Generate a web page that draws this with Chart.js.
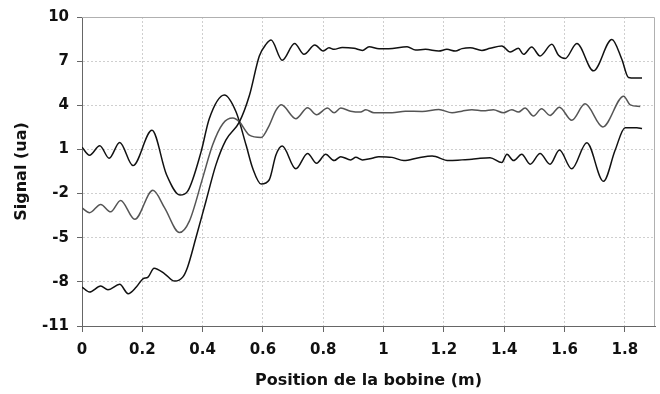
<!DOCTYPE html>
<html>
<head>
<meta charset="utf-8">
<script src="https://cdn.jsdelivr.net/npm/chart.js@4/dist/chart.umd.min.js"></script>
<style>
  html, body { margin: 0; padding: 0; background: #fff; }
  #wrap { width: 660px; height: 394px; }
</style>
</head>
<body>
<div id="wrap"><canvas id="myChart" width="660" height="394"></canvas></div>
<script>
// tick positions
const xTicks = [0, 0.2, 0.4, 0.6, 0.8, 1, 1.2, 1.4, 1.6, 1.8];
const yTicks = [-11, -8, -5, -2, 1, 4, 7, 10];

// curve starting near 1 (black)
const posA = [0, 0.025, 0.059, 0.09, 0.125, 0.169, 0.232, 0.28, 0.325, 0.35, 0.395, 0.422, 0.472, 0.511, 0.544, 0.566, 0.594, 0.621, 0.643, 0.664, 0.709, 0.748, 0.778, 0.808, 0.836, 0.858, 0.891, 0.908, 0.93, 0.962, 0.984, 1.028, 1.067, 1.117, 1.161, 1.216, 1.26, 1.293, 1.32, 1.353, 1.392, 1.409, 1.431, 1.458, 1.486, 1.519, 1.552, 1.583, 1.624, 1.674, 1.729, 1.768, 1.801, 1.84, 1.857];
const sigA = [1.15, 0.6, 1.25, 0.4, 1.47, -0.1, 2.3, -0.7, -2.1, -1.85, 0.85, 3.09, 4.7, 3.54, 1.3, -0.28, -1.35, -1.06, 0.62, 1.23, -0.32, 0.73, 0.06, 0.67, 0.24, 0.51, 0.29, 0.46, 0.29, 0.4, 0.51, 0.46, 0.24, 0.44, 0.55, 0.24, 0.29, 0.33, 0.4, 0.44, 0.11, 0.67, 0.24, 0.67, 0.0, 0.73, 0.0, 0.96, -0.32, 1.45, -1.17, 0.96, 2.48, 2.48, 2.42];

// curve starting near -3 (grey)
const posB = [0, 0.025, 0.062, 0.095, 0.128, 0.175, 0.235, 0.274, 0.323, 0.356, 0.4, 0.433, 0.467, 0.5, 0.522, 0.555, 0.594, 0.621, 0.643, 0.661, 0.709, 0.748, 0.778, 0.814, 0.836, 0.858, 0.891, 0.924, 0.941, 0.968, 1.028, 1.072, 1.128, 1.183, 1.227, 1.26, 1.293, 1.331, 1.364, 1.397, 1.425, 1.447, 1.469, 1.497, 1.524, 1.552, 1.583, 1.624, 1.668, 1.727, 1.796, 1.818, 1.851];
const sigB = [-2.97, -3.3, -2.74, -3.24, -2.47, -3.75, -1.78, -2.97, -4.65, -3.87, -0.95, 1.3, 2.75, 3.13, 2.87, 1.97, 1.81, 2.64, 3.65, 4.03, 3.09, 3.83, 3.36, 3.81, 3.49, 3.81, 3.6, 3.54, 3.7, 3.49, 3.49, 3.6, 3.58, 3.72, 3.49, 3.6, 3.7, 3.63, 3.7, 3.49, 3.7, 3.54, 3.81, 3.27, 3.76, 3.31, 3.87, 2.98, 4.1, 2.53, 4.62, 4.03, 3.92];

// curve starting near -8.5 (black)
const posC = [0, 0.025, 0.062, 0.086, 0.125, 0.153, 0.18, 0.202, 0.219, 0.239, 0.274, 0.307, 0.334, 0.35, 0.378, 0.411, 0.444, 0.477, 0.522, 0.555, 0.588, 0.61, 0.627, 0.664, 0.705, 0.736, 0.772, 0.8, 0.819, 0.836, 0.863, 0.902, 0.93, 0.952, 0.985, 1.017, 1.078, 1.106, 1.139, 1.183, 1.21, 1.238, 1.26, 1.287, 1.326, 1.353, 1.392, 1.42, 1.447, 1.464, 1.491, 1.519, 1.558, 1.58, 1.602, 1.641, 1.696, 1.757, 1.79, 1.812, 1.834, 1.857];
const sigC = [-8.35, -8.69, -8.29, -8.53, -8.17, -8.8, -8.35, -7.79, -7.68, -7.07, -7.45, -7.95, -7.68, -7.0, -4.99, -2.52, -0.05, 1.63, 2.87, 4.66, 7.35, 8.14, 8.43, 7.06, 8.2, 7.46, 8.09, 7.69, 7.91, 7.8, 7.93, 7.87, 7.73, 7.98, 7.85, 7.85, 7.98, 7.76, 7.8, 7.69, 7.8, 7.69, 7.85, 7.91, 7.73, 7.87, 8.03, 7.62, 7.87, 7.46, 7.96, 7.35, 8.14, 7.4, 7.18, 8.2, 6.34, 8.47, 7.13, 5.89, 5.85, 5.85];

function toPoints(xs, ys) {
    return xs.map((x, i) => ({ x: x, y: ys[i] }));
}

const FONT = "'DejaVu Sans', sans-serif";

// light frame on top / right of the plot area
const frame = {
    id: 'frame',
    beforeDatasetsDraw(chart) {
        const a = chart.chartArea;
        const ctx = chart.ctx;
        ctx.save();
        ctx.strokeStyle = '#b0b0b0';
        ctx.lineWidth = 1;
        ctx.beginPath();
        ctx.moveTo(a.left, a.top + 0.5);
        ctx.lineTo(a.right - 0.5, a.top + 0.5);
        ctx.lineTo(a.right - 0.5, a.bottom);
        ctx.stroke();
        ctx.restore();
    }
};

function lineSet(data, color) {
    return {
        data: data,
        borderColor: color,
        borderWidth: 1.5,
        pointRadius: 0,
        fill: false,
        cubicInterpolationMode: 'monotone'
    };
}

const ctx = document.getElementById('myChart').getContext('2d');
const myChart = new Chart(ctx, {
    type: 'line',
    data: {
        datasets: [
            lineSet(toPoints(posC, sigC), '#111111'),
            lineSet(toPoints(posB, sigB), '#555555'),
            lineSet(toPoints(posA, sigA), '#111111')
        ]
    },
    options: {
        responsive: false,
        animation: false,
        layout: { padding: { top: 14, right: 5, left: 0, bottom: 0 } },
        plugins: { legend: { display: false }, tooltip: { enabled: false } },
        scales: {
            x: {
                type: 'linear',
                min: 0,
                max: 1.9,
                afterBuildTicks: s => { s.ticks = xTicks.map(v => ({ value: v })); },
                afterFit: s => { s.height = 68; },
                ticks: {
                    callback: v => String(v),
                    color: '#111',
                    font: { family: FONT, size: 15, weight: 'bold' },
                    padding: 9,
                    maxRotation: 0
                },
                grid: {
                    color: '#cfcfcf',
                    tickBorderDash: [],
                    tickColor: '#666',
                    tickLength: 6
                },
                border: { color: '#666', width: 1, dash: [2, 2] },
                title: {
                    display: true,
                    text: 'Position de la bobine (m)',
                    color: '#111',
                    font: { family: FONT, size: 16, weight: 'bold' },
                    padding: { top: 8 }
                }
            },
            y: {
                type: 'linear',
                min: -11,
                max: 10,
                afterBuildTicks: s => { s.ticks = yTicks.map(v => ({ value: v })); },
                afterFit: s => { s.width = 82; },
                ticks: {
                    callback: v => String(v),
                    color: '#111',
                    font: { family: FONT, size: 15, weight: 'bold' },
                    padding: 8
                },
                grid: {
                    color: '#cfcfcf',
                    tickBorderDash: [],
                    tickColor: '#666',
                    tickLength: 5
                },
                border: { color: '#666', width: 1, dash: [2, 2] },
                title: {
                    display: true,
                    text: 'Signal (ua)',
                    color: '#111',
                    font: { family: FONT, size: 16, weight: 'bold' },
                    padding: { top: 12, bottom: 4 }
                }
            }
        }
    },
    plugins: [frame]
});
</script>
</body>
</html>
